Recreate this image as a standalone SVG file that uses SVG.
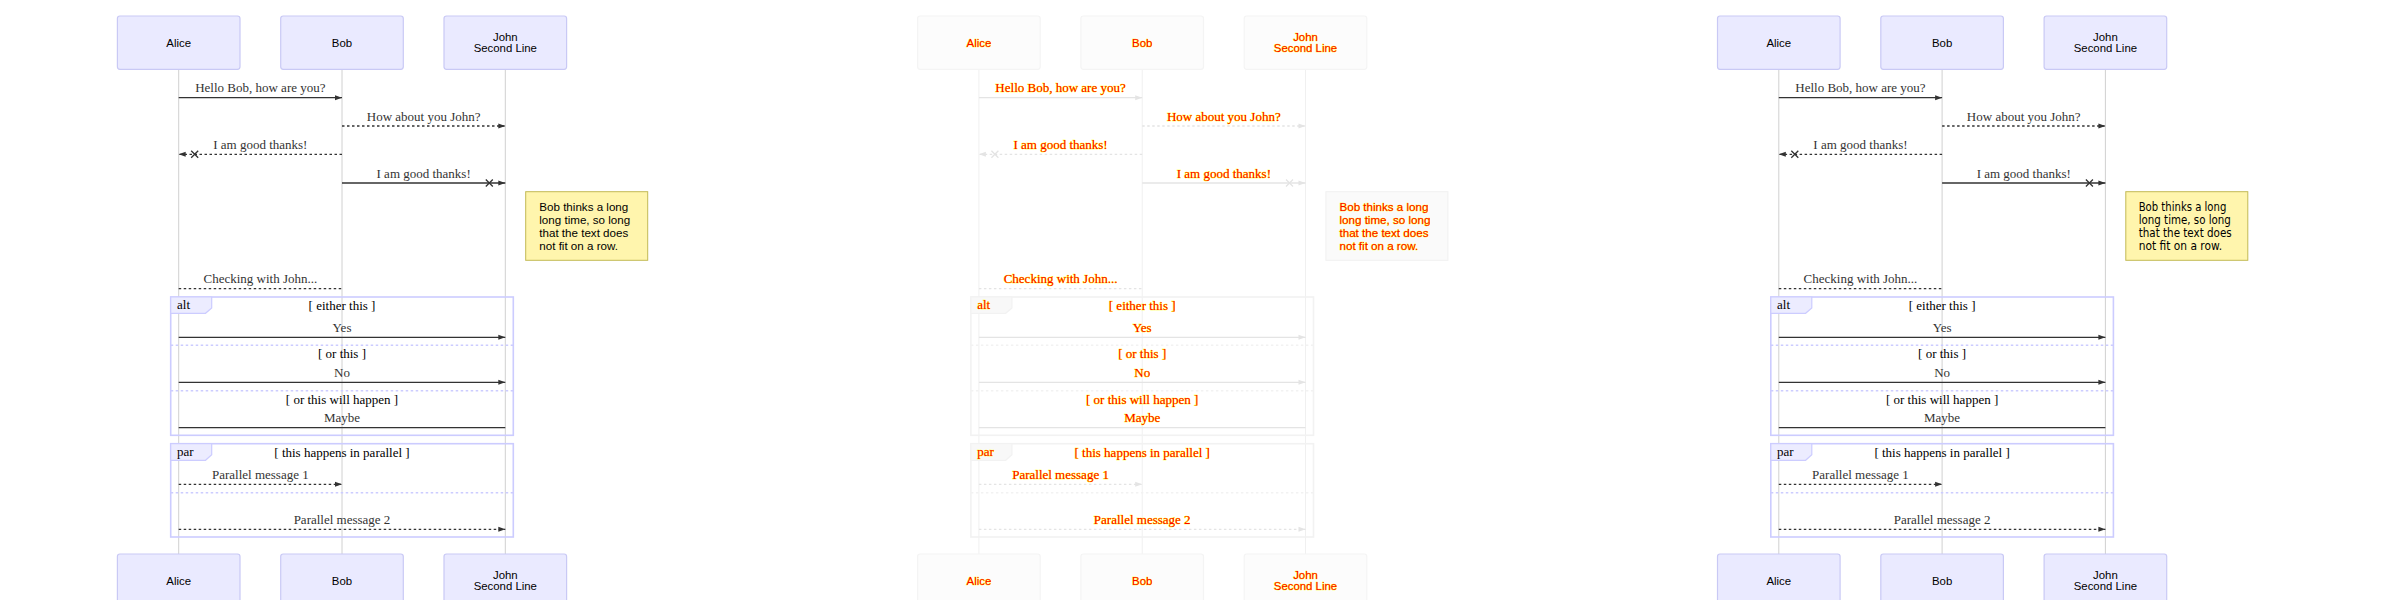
<svg xmlns="http://www.w3.org/2000/svg" width="2400" height="600" viewBox="0 0 2400 600">
<style>
.actor{fill:#eaeaff;stroke:#c9c9f5;stroke-width:1.2}
.at{font-family:"Liberation Sans",Arial,sans-serif;font-size:11.4px;text-anchor:middle;dominant-baseline:central;fill:#000}
.life{stroke:#d0d0d0;stroke-width:1}
.m{fill:none;stroke:#333;stroke-width:1.3}
.dt{stroke-dasharray:2.5 2.5}
.mt{font-family:"Liberation Serif","Times New Roman",serif;font-size:13px;text-anchor:middle;fill:#333}
.note{fill:#fff5ad;stroke:#c2b955;stroke-width:1}
.nt{font-family:"Liberation Sans",Arial,sans-serif;font-size:11.6px;fill:#000}
.loop{fill:none;stroke:#ccccff;stroke-width:1.6}
.lbl{fill:#ececff;stroke:#ccccff;stroke-width:1.2}
.sep{stroke:#ccccff;stroke-width:1.6;stroke-dasharray:2.5 2.5}
.lt{font-family:"Liberation Serif","Times New Roman",serif;font-size:13px;fill:#000}
.lc{text-anchor:middle}
#d2 .actor{fill:#fcfcfc;stroke:#f4f4f4}
#d2 .life{stroke:#f0f0f0}
#d2 .m{stroke:#e4e4e4}
#d2 .note{fill:#fafafa;stroke:#f0f0f0}
#d2 .loop,#d2 .sep{stroke:#f2f2f2}
#d2 .lbl{fill:#f8f8f8;stroke:#f2f2f2}
#d2 text{fill:#ff0000;stroke:#ffff00;stroke-width:0.7px;paint-order:stroke}
#d3 .nt{font-family:"DejaVu Sans",sans-serif;font-size:11.4px}
</style>
<defs>
<marker id="ah1" markerUnits="userSpaceOnUse" markerWidth="8" markerHeight="6" refX="7" refY="2.5" orient="auto" overflow="visible"><path d="M0,0 L7,2.5 L0,5 z" fill="#333"/></marker>
<marker id="ax1" markerUnits="userSpaceOnUse" markerWidth="24" markerHeight="10" refX="21" refY="5" orient="auto" overflow="visible"><path d="M14,2.5 L21,5 L14,7.5 z" fill="#333"/><path d="M1.5,1.5 L8.5,8.5 M1.5,8.5 L8.5,1.5" stroke="#333" stroke-width="1.3" fill="none"/></marker>
<marker id="ah2" markerUnits="userSpaceOnUse" markerWidth="8" markerHeight="6" refX="7" refY="2.5" orient="auto" overflow="visible"><path d="M0,0 L7,2.5 L0,5 z" fill="#e4e4e4"/></marker>
<marker id="ax2" markerUnits="userSpaceOnUse" markerWidth="24" markerHeight="10" refX="21" refY="5" orient="auto" overflow="visible"><path d="M14,2.5 L21,5 L14,7.5 z" fill="#e4e4e4"/><path d="M1.5,1.5 L8.5,8.5 M1.5,8.5 L8.5,1.5" stroke="#e4e4e4" stroke-width="1.3" fill="none"/></marker>
</defs>
<rect width="2400" height="600" fill="#fff"/>

<!-- Diagram 1 -->
<g id="d1">
<g id="d1-lifelines">
<line class="life" x1="178.7" y1="69.3" x2="178.7" y2="554"/>
<line class="life" x1="342" y1="69.3" x2="342" y2="554"/>
<line class="life" x1="505.3" y1="69.3" x2="505.3" y2="554"/>
</g>
<g id="d1-alice-top"><rect class="actor" x="117.4" y="16" width="122.6" height="53.3" rx="2.5"/><text class="at" x="178.7" y="43">Alice</text></g>
<g id="d1-bob-top"><rect class="actor" x="280.7" y="16" width="122.6" height="53.3" rx="2.5"/><text class="at" x="342" y="43">Bob</text></g>
<g id="d1-john-top"><rect class="actor" x="444" y="16" width="122.6" height="53.3" rx="2.5"/><text class="at" x="505.3" y="37">John</text><text class="at" x="505.3" y="48">Second Line</text></g>
<g id="d1-alice-bottom"><rect class="actor" x="117.4" y="554" width="122.6" height="53.3" rx="2.5"/><text class="at" x="178.7" y="581">Alice</text></g>
<g id="d1-bob-bottom"><rect class="actor" x="280.7" y="554" width="122.6" height="53.3" rx="2.5"/><text class="at" x="342" y="581">Bob</text></g>
<g id="d1-john-bottom"><rect class="actor" x="444" y="554" width="122.6" height="53.3" rx="2.5"/><text class="at" x="505.3" y="575">John</text><text class="at" x="505.3" y="586">Second Line</text></g>
<g id="d1-note"><rect class="note" x="525.7" y="191.7" width="122" height="68.6"/>
<text class="nt" x="539.3" y="210.8">Bob thinks a long</text>
<text class="nt" x="539.3" y="224">long time, so long</text>
<text class="nt" x="539.3" y="237.2">that the text does</text>
<text class="nt" x="539.3" y="250.4">not fit on a row.</text></g>
<g id="d1-alt"><rect class="loop" x="170.7" y="297" width="342.6" height="138.3"/>
<polygon class="lbl" points="170.7,297 211.7,297 211.7,308 205.5,313.3 170.7,313.3"/>
<text class="lt" x="177" y="309">alt</text>
<text class="lt lc" x="342" y="309.5">[ either this ]</text>
<line class="sep" x1="170.7" y1="345.3" x2="513.3" y2="345.3"/>
<text class="lt lc" x="342" y="358">[ or this ]</text>
<line class="sep" x1="170.7" y1="390.7" x2="513.3" y2="390.7"/>
<text class="lt lc" x="342" y="403.5">[ or this will happen ]</text></g>
<g id="d1-par"><rect class="loop" x="170.7" y="443.7" width="342.6" height="93.3"/>
<polygon class="lbl" points="170.7,443.7 211.7,443.7 211.7,454.7 205.5,460.3 170.7,460.3"/>
<text class="lt" x="177" y="456">par</text>
<text class="lt lc" x="342" y="456.5">[ this happens in parallel ]</text>
<line class="sep" x1="170.7" y1="492.7" x2="513.3" y2="492.7"/></g>
<g id="d1-messages">
<line class="m" x1="178.7" y1="97.7" x2="342" y2="97.7" marker-end="url(#ah1)"/>
<text class="mt" x="260.35" y="92.3">Hello Bob, how are you?</text>
<line class="m dt" x1="342" y1="126" x2="505.3" y2="126" marker-end="url(#ah1)"/>
<text class="mt" x="423.65" y="120.6">How about you John?</text>
<line class="m dt" x1="342" y1="154.3" x2="178.7" y2="154.3" marker-end="url(#ax1)"/>
<text class="mt" x="260.35" y="148.9">I am good thanks!</text>
<line class="m" x1="342" y1="183" x2="505.3" y2="183" marker-end="url(#ax1)"/>
<text class="mt" x="423.65" y="177.6">I am good thanks!</text>
<line class="m dt" x1="178.7" y1="288.7" x2="342" y2="288.7"/>
<text class="mt" x="260.35" y="283.3">Checking with John...</text>
<line class="m" x1="178.7" y1="337.3" x2="505.3" y2="337.3" marker-end="url(#ah1)"/>
<text class="mt" x="342" y="332">Yes</text>
<line class="m" x1="178.7" y1="382.3" x2="505.3" y2="382.3" marker-end="url(#ah1)"/>
<text class="mt" x="342" y="377">No</text>
<line class="m" x1="178.7" y1="427.7" x2="505.3" y2="427.7"/>
<text class="mt" x="342" y="422.3">Maybe</text>
<line class="m dt" x1="178.7" y1="484.3" x2="342" y2="484.3" marker-end="url(#ah1)"/>
<text class="mt" x="260.35" y="479">Parallel message 1</text>
<line class="m dt" x1="178.7" y1="529.3" x2="505.3" y2="529.3" marker-end="url(#ah1)"/>
<text class="mt" x="342" y="524">Parallel message 2</text>
</g>
</g>

<!-- Diagram 2 -->
<g id="d2" transform="translate(800.2 0)">
<g id="d2-lifelines">
<line class="life" x1="178.7" y1="69.3" x2="178.7" y2="554"/>
<line class="life" x1="342" y1="69.3" x2="342" y2="554"/>
<line class="life" x1="505.3" y1="69.3" x2="505.3" y2="554"/>
</g>
<g id="d2-alice-top"><rect class="actor" x="117.4" y="16" width="122.6" height="53.3" rx="2.5"/><text class="at" x="178.7" y="43">Alice</text></g>
<g id="d2-bob-top"><rect class="actor" x="280.7" y="16" width="122.6" height="53.3" rx="2.5"/><text class="at" x="342" y="43">Bob</text></g>
<g id="d2-john-top"><rect class="actor" x="444" y="16" width="122.6" height="53.3" rx="2.5"/><text class="at" x="505.3" y="37">John</text><text class="at" x="505.3" y="48">Second Line</text></g>
<g id="d2-alice-bottom"><rect class="actor" x="117.4" y="554" width="122.6" height="53.3" rx="2.5"/><text class="at" x="178.7" y="581">Alice</text></g>
<g id="d2-bob-bottom"><rect class="actor" x="280.7" y="554" width="122.6" height="53.3" rx="2.5"/><text class="at" x="342" y="581">Bob</text></g>
<g id="d2-john-bottom"><rect class="actor" x="444" y="554" width="122.6" height="53.3" rx="2.5"/><text class="at" x="505.3" y="575">John</text><text class="at" x="505.3" y="586">Second Line</text></g>
<g id="d2-note"><rect class="note" x="525.7" y="191.7" width="122" height="68.6"/>
<text class="nt" x="539.3" y="210.8">Bob thinks a long</text>
<text class="nt" x="539.3" y="224">long time, so long</text>
<text class="nt" x="539.3" y="237.2">that the text does</text>
<text class="nt" x="539.3" y="250.4">not fit on a row.</text></g>
<g id="d2-alt"><rect class="loop" x="170.7" y="297" width="342.6" height="138.3"/>
<polygon class="lbl" points="170.7,297 211.7,297 211.7,308 205.5,313.3 170.7,313.3"/>
<text class="lt" x="177" y="309">alt</text>
<text class="lt lc" x="342" y="309.5">[ either this ]</text>
<line class="sep" x1="170.7" y1="345.3" x2="513.3" y2="345.3"/>
<text class="lt lc" x="342" y="358">[ or this ]</text>
<line class="sep" x1="170.7" y1="390.7" x2="513.3" y2="390.7"/>
<text class="lt lc" x="342" y="403.5">[ or this will happen ]</text></g>
<g id="d2-par"><rect class="loop" x="170.7" y="443.7" width="342.6" height="93.3"/>
<polygon class="lbl" points="170.7,443.7 211.7,443.7 211.7,454.7 205.5,460.3 170.7,460.3"/>
<text class="lt" x="177" y="456">par</text>
<text class="lt lc" x="342" y="456.5">[ this happens in parallel ]</text>
<line class="sep" x1="170.7" y1="492.7" x2="513.3" y2="492.7"/></g>
<g id="d2-messages">
<line class="m" x1="178.7" y1="97.7" x2="342" y2="97.7" marker-end="url(#ah2)"/>
<text class="mt" x="260.35" y="92.3">Hello Bob, how are you?</text>
<line class="m dt" x1="342" y1="126" x2="505.3" y2="126" marker-end="url(#ah2)"/>
<text class="mt" x="423.65" y="120.6">How about you John?</text>
<line class="m dt" x1="342" y1="154.3" x2="178.7" y2="154.3" marker-end="url(#ax2)"/>
<text class="mt" x="260.35" y="148.9">I am good thanks!</text>
<line class="m" x1="342" y1="183" x2="505.3" y2="183" marker-end="url(#ax2)"/>
<text class="mt" x="423.65" y="177.6">I am good thanks!</text>
<line class="m dt" x1="178.7" y1="288.7" x2="342" y2="288.7"/>
<text class="mt" x="260.35" y="283.3">Checking with John...</text>
<line class="m" x1="178.7" y1="337.3" x2="505.3" y2="337.3" marker-end="url(#ah2)"/>
<text class="mt" x="342" y="332">Yes</text>
<line class="m" x1="178.7" y1="382.3" x2="505.3" y2="382.3" marker-end="url(#ah2)"/>
<text class="mt" x="342" y="377">No</text>
<line class="m" x1="178.7" y1="427.7" x2="505.3" y2="427.7"/>
<text class="mt" x="342" y="422.3">Maybe</text>
<line class="m dt" x1="178.7" y1="484.3" x2="342" y2="484.3" marker-end="url(#ah2)"/>
<text class="mt" x="260.35" y="479">Parallel message 1</text>
<line class="m dt" x1="178.7" y1="529.3" x2="505.3" y2="529.3" marker-end="url(#ah2)"/>
<text class="mt" x="342" y="524">Parallel message 2</text>
</g>
</g>

<!-- Diagram 3 -->
<g id="d3" transform="translate(1600.1 0)">
<g id="d3-lifelines">
<line class="life" x1="178.7" y1="69.3" x2="178.7" y2="554"/>
<line class="life" x1="342" y1="69.3" x2="342" y2="554"/>
<line class="life" x1="505.3" y1="69.3" x2="505.3" y2="554"/>
</g>
<g id="d3-alice-top"><rect class="actor" x="117.4" y="16" width="122.6" height="53.3" rx="2.5"/><text class="at" x="178.7" y="43">Alice</text></g>
<g id="d3-bob-top"><rect class="actor" x="280.7" y="16" width="122.6" height="53.3" rx="2.5"/><text class="at" x="342" y="43">Bob</text></g>
<g id="d3-john-top"><rect class="actor" x="444" y="16" width="122.6" height="53.3" rx="2.5"/><text class="at" x="505.3" y="37">John</text><text class="at" x="505.3" y="48">Second Line</text></g>
<g id="d3-alice-bottom"><rect class="actor" x="117.4" y="554" width="122.6" height="53.3" rx="2.5"/><text class="at" x="178.7" y="581">Alice</text></g>
<g id="d3-bob-bottom"><rect class="actor" x="280.7" y="554" width="122.6" height="53.3" rx="2.5"/><text class="at" x="342" y="581">Bob</text></g>
<g id="d3-john-bottom"><rect class="actor" x="444" y="554" width="122.6" height="53.3" rx="2.5"/><text class="at" x="505.3" y="575">John</text><text class="at" x="505.3" y="586">Second Line</text></g>
<g id="d3-note"><rect class="note" x="525.7" y="191.7" width="122" height="68.6"/>
<text class="nt" x="538.6" y="210.8" textLength="87.6" lengthAdjust="spacingAndGlyphs">Bob thinks a long</text>
<text class="nt" x="538.6" y="224" textLength="92.2" lengthAdjust="spacingAndGlyphs">long time, so long</text>
<text class="nt" x="538.6" y="237.2" textLength="93" lengthAdjust="spacingAndGlyphs">that the text does</text>
<text class="nt" x="538.6" y="250.4" textLength="83.4" lengthAdjust="spacingAndGlyphs">not fit on a row.</text></g>
<g id="d3-alt"><rect class="loop" x="170.7" y="297" width="342.6" height="138.3"/>
<polygon class="lbl" points="170.7,297 211.7,297 211.7,308 205.5,313.3 170.7,313.3"/>
<text class="lt" x="177" y="309">alt</text>
<text class="lt lc" x="342" y="309.5">[ either this ]</text>
<line class="sep" x1="170.7" y1="345.3" x2="513.3" y2="345.3"/>
<text class="lt lc" x="342" y="358">[ or this ]</text>
<line class="sep" x1="170.7" y1="390.7" x2="513.3" y2="390.7"/>
<text class="lt lc" x="342" y="403.5">[ or this will happen ]</text></g>
<g id="d3-par"><rect class="loop" x="170.7" y="443.7" width="342.6" height="93.3"/>
<polygon class="lbl" points="170.7,443.7 211.7,443.7 211.7,454.7 205.5,460.3 170.7,460.3"/>
<text class="lt" x="177" y="456">par</text>
<text class="lt lc" x="342" y="456.5">[ this happens in parallel ]</text>
<line class="sep" x1="170.7" y1="492.7" x2="513.3" y2="492.7"/></g>
<g id="d3-messages">
<line class="m" x1="178.7" y1="97.7" x2="342" y2="97.7" marker-end="url(#ah1)"/>
<text class="mt" x="260.35" y="92.3">Hello Bob, how are you?</text>
<line class="m dt" x1="342" y1="126" x2="505.3" y2="126" marker-end="url(#ah1)"/>
<text class="mt" x="423.65" y="120.6">How about you John?</text>
<line class="m dt" x1="342" y1="154.3" x2="178.7" y2="154.3" marker-end="url(#ax1)"/>
<text class="mt" x="260.35" y="148.9">I am good thanks!</text>
<line class="m" x1="342" y1="183" x2="505.3" y2="183" marker-end="url(#ax1)"/>
<text class="mt" x="423.65" y="177.6">I am good thanks!</text>
<line class="m dt" x1="178.7" y1="288.7" x2="342" y2="288.7"/>
<text class="mt" x="260.35" y="283.3">Checking with John...</text>
<line class="m" x1="178.7" y1="337.3" x2="505.3" y2="337.3" marker-end="url(#ah1)"/>
<text class="mt" x="342" y="332">Yes</text>
<line class="m" x1="178.7" y1="382.3" x2="505.3" y2="382.3" marker-end="url(#ah1)"/>
<text class="mt" x="342" y="377">No</text>
<line class="m" x1="178.7" y1="427.7" x2="505.3" y2="427.7"/>
<text class="mt" x="342" y="422.3">Maybe</text>
<line class="m dt" x1="178.7" y1="484.3" x2="342" y2="484.3" marker-end="url(#ah1)"/>
<text class="mt" x="260.35" y="479">Parallel message 1</text>
<line class="m dt" x1="178.7" y1="529.3" x2="505.3" y2="529.3" marker-end="url(#ah1)"/>
<text class="mt" x="342" y="524">Parallel message 2</text>
</g>
</g>
</svg>
